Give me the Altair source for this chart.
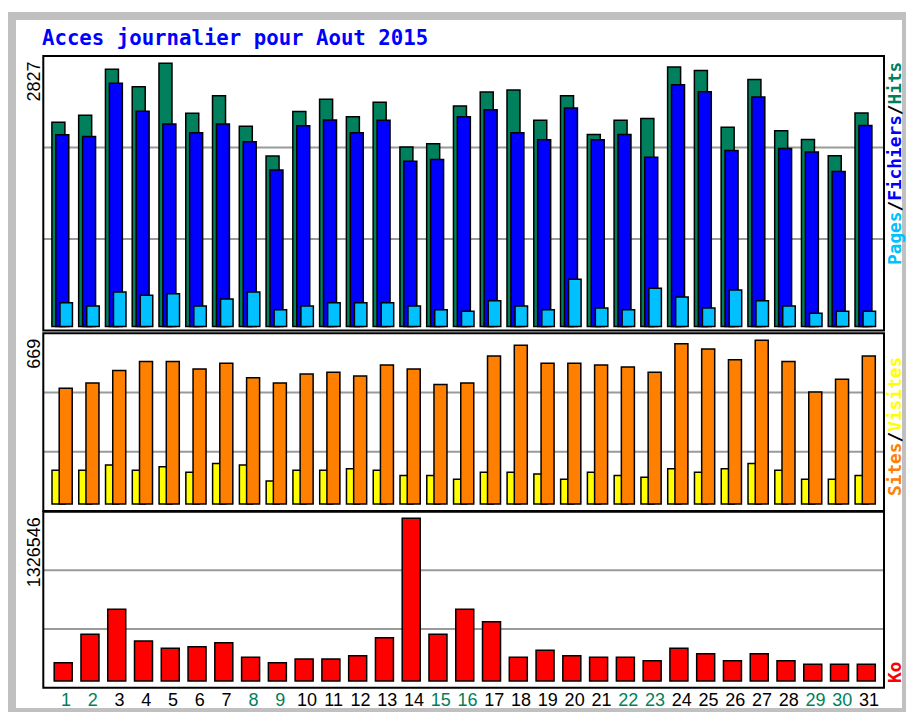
import datetime as dt
import altair as alt
import pandas as pd

# ---------------- data ----------------
days = list(range(1, 32))
hits = [2194, 2269, 2763, 2574, 2827, 2290, 2478, 2152, 1832, 2308,
        2440, 2254, 2408, 1928, 1963, 2368, 2518, 2539, 2216, 2478,
        2062, 2216, 2233, 2788, 2749, 2141, 2653, 2102, 2009, 1835, 2294]
files = [2059, 2041, 2614, 2312, 2176, 2080, 2176, 1984, 1682, 2155,
         2219, 2080, 2216, 1774, 1795, 2254, 2329, 2080, 2006, 2347,
         2006, 2062, 1817, 2596, 2521, 1891, 2464, 1913, 1874, 1664, 2158]
pages = [256, 220, 371, 335, 352, 220, 295, 371, 180, 220,
         256, 256, 256, 220, 180, 163, 277, 220, 180, 507,
         199, 180, 410, 317, 199, 392, 277, 220, 142, 163, 163]
sites = [473, 495, 546, 582, 582, 552, 575, 516, 495, 531,
         538, 523, 568, 552, 488, 495, 605, 649, 575, 575,
         568, 560, 538, 655, 633, 590, 669, 582, 458, 510, 605]
visits = [138, 138, 159, 138, 152, 130, 166, 159, 94, 138,
          138, 144, 138, 116, 116, 101, 130, 130, 123, 101,
          130, 116, 109, 144, 130, 144, 166, 138, 101, 101, 116]
kbytes = [149200, 380750, 584600, 326100, 266600, 279650, 312260, 193230, 149200, 179370,
          179370, 206270, 353030, 1326546, 380750, 584600, 483470, 193230, 250300, 206270,
          193230, 193230, 165510, 266600, 222580, 165510, 222580, 165510, 136160, 136160, 136160]

TITLE = "Acces journalier pour Aout 2015"

day_kind = ["we" if dt.date(2015, 8, d).weekday() >= 5 else "wd" for d in days]

df = pd.DataFrame({
    "day": days, "hits": hits, "files": files, "pages": pages,
    "sites": sites, "visits": visits, "kbytes": kbytes, "kind": day_kind,
    "label": [str(d) for d in days],
})

# ---------------- layout ----------------
PLOT_LEFT, PLOT_TOP = 12, 16          # page position of the plot area
W, H = 894, 696
PITCH = 26.77                         # px per day
DAY1_X = 66                           # page x of day 1

D0 = 1 - (DAY1_X - PLOT_LEFT) / PITCH
D1 = D0 + W / PITCH
xs = alt.Scale(domain=[D0, D1], nice=False, zero=False, padding=0)


def day_at(page_x):
    return 1 + (page_x - DAY1_X) / PITCH


FRAME_L, FRAME_R = day_at(43.3), day_at(884)

HIT_C, FILE_C, PAGE_C = "#00805c", "#0000ff", "#00c0ff"
SITE_C, VISIT_C, KB_C = "#ff8000", "#ffff00", "#ff0000"


def panel(top, bottom, base, peak, vmax):
    k = vmax / (base - peak)
    lo = -(bottom - base) * k
    hi = (base - top) * k
    scale = alt.Scale(domain=[lo, hi], range=[bottom - PLOT_TOP, top - PLOT_TOP],
                      nice=False, zero=False, padding=0)
    grid = [lo + (hi - lo) / 3, lo + 2 * (hi - lo) / 3]
    return dict(scale=scale, lo=lo, hi=hi, grid=grid, top=top)


P1 = panel(56, 330.5, 326.5, 63.3, max(hits))
P2 = panel(333.3, 511, 504, 340.3, max(sites))
P3 = panel(511.7, 687.7, 681, 518.3, max(kbytes))

X = alt.X("day:Q", scale=xs, axis=None)


def bars(field, color, offset, width, p):
    return alt.Chart(df).mark_bar(
        color=color, stroke="black", strokeWidth=1.5, width=width, xOffset=offset
    ).encode(
        x=X,
        y=alt.Y(f"{field}:Q", scale=p["scale"], axis=None),
        y2=alt.Y2Datum(0),
    )


def grid(p):
    g = pd.DataFrame({"g": p["grid"]})
    return alt.Chart(g).mark_rule(color="#9a9a9a", strokeWidth=2).encode(
        y=alt.Y("g:Q", scale=p["scale"], axis=None),
        x=alt.XDatum(FRAME_L, type="quantitative", scale=xs, axis=None),
        x2=alt.X2Datum(FRAME_R),
    )


def frame(p):
    one = pd.DataFrame({"a": [0]})
    return alt.Chart(one).mark_rect(
        fill="white", fillOpacity=0, stroke="black", strokeWidth=2
    ).encode(
        x=alt.XDatum(FRAME_L, type="quantitative", scale=xs, axis=None),
        x2=alt.X2Datum(FRAME_R),
        y=alt.YDatum(p["lo"], type="quantitative", scale=p["scale"], axis=None),
        y2=alt.Y2Datum(p["hi"]),
    )


one = pd.DataFrame({"a": [0]})


def label(text, page_x, page_y, color="black", angle=0, align="left",
          baseline="middle", font="DejaVu Sans Mono", size=17.8, weight="bold"):
    return alt.Chart(one).mark_text(
        text=text, color=color, angle=angle, align=align, baseline=baseline,
        font=font, fontSize=size, fontWeight=weight,
    ).encode(x=alt.value(page_x - PLOT_LEFT), y=alt.value(page_y - PLOT_TOP))


ADV = 10.7  # monospace advance of the side labels


def side(parts, start_y, page_x=896):
    out = []
    idx = 0
    for txt, col in parts:
        out.append(label(txt, page_x, start_y - idx * ADV, color=col, angle=270))
        idx += len(txt)
    return out


layers = []
# gridlines
for p in (P1, P2, P3):
    layers.append(grid(p))
# bars
layers += [
    bars("hits", HIT_C, -7.6, 13, P1),
    bars("files", FILE_C, -3.7, 13, P1),
    bars("pages", PAGE_C, 0.2, 12.5, P1),
    bars("visits", VISIT_C, -7.5, 13, P2),
    bars("sites", SITE_C, -0.3, 13, P2),
    bars("kbytes", KB_C, -2.8, 18, P3),
]
# panel frames
for p in (P1, P2, P3):
    layers.append(frame(p))

# title
layers.append(label(TITLE, 42, 45, color="#0000ff", baseline="alphabetic", size=20.7))

# max value labels on the left
for txt, p in ((str(max(hits)), P1), (str(max(sites)), P2), (str(max(kbytes)), P3)):
    layers.append(label(txt, 35, p["top"] + 5.5, angle=270, align="right",
                        font="Liberation Sans", size=18, weight="normal"))

# legends on the right
layers += side([("Pages", PAGE_C), ("/", "black"), ("Fichiers", FILE_C),
                ("/", "black"), ("Hits", HIT_C)], 265)
layers += side([("Sites", SITE_C), ("/", "black"), ("Visites", VISIT_C)], 496)
layers += side([("Ko", KB_C)], 683)

# day labels
layers.append(
    alt.Chart(df).mark_text(font="Liberation Sans", fontSize=18, baseline="alphabetic").encode(
        x=X,
        y=alt.value(706 - PLOT_TOP),
        text="label:N",
        color=alt.Color("kind:N", scale=alt.Scale(domain=["wd", "we"], range=["black", HIT_C]),
                        legend=None),
    )
)

chart = (
    alt.layer(*layers)
    .resolve_scale(y="independent")
    .properties(
        width=W, height=H,
        padding={"left": 4, "top": 8, "right": 0, "bottom": 0},
        autosize=alt.AutoSizeParams(type="none"),
        background="white",
    )
    .configure_view(stroke="#c0c0c0", strokeWidth=8, fill="white")
)

chart.save("out.html", embed_options={"renderer": "svg", "actions": False})
